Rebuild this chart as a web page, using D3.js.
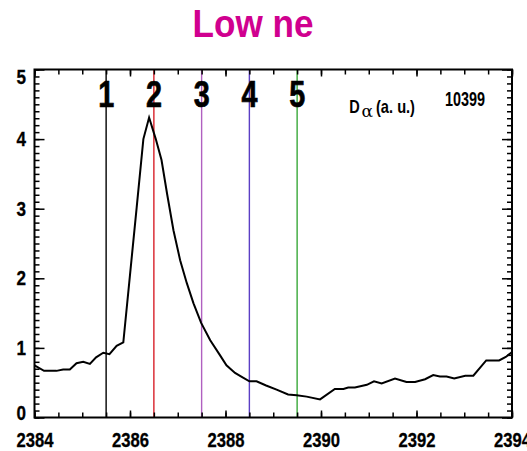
<!DOCTYPE html>
<html>
<head>
<meta charset="utf-8">
<script src="https://cdn.jsdelivr.net/npm/d3@7"></script>
<style>
  body { margin: 0; background: #fff; }
  svg text { font-family: "Liberation Sans", Arial, sans-serif; font-weight: bold; }
</style>
</head>
<body>
<script>
// time axis (ms) and D-alpha signal
var times = [2384.00, 2384.20, 2384.46, 2384.60, 2384.74, 2384.88, 2385.02, 2385.16, 2385.29, 2385.44,
             2385.57, 2385.72, 2385.86, 2386.00, 2386.14, 2386.28, 2386.40, 2386.54, 2386.66, 2386.78,
             2386.91, 2387.05, 2387.19, 2387.33, 2387.49, 2387.68, 2387.88, 2388.02, 2388.20, 2388.34,
             2388.50, 2388.65, 2388.85, 2389.07, 2389.31, 2389.49, 2389.70, 2389.98, 2390.29, 2390.47,
             2390.57, 2390.71, 2390.96, 2391.11, 2391.27, 2391.55, 2391.79, 2391.97, 2392.18, 2392.35,
             2392.49, 2392.63, 2392.79, 2393.02, 2393.19, 2393.46, 2393.73, 2393.87, 2394.00];
var dalpha = [0.75, 0.67, 0.67, 0.69, 0.69, 0.78, 0.80, 0.77, 0.865, 0.93,
              0.91, 1.03, 1.08, 2.05, 3.02, 4.00, 4.31, 4.00, 3.70, 3.20,
              2.69, 2.26, 1.93, 1.64, 1.36, 1.11, 0.90, 0.75, 0.64, 0.585,
              0.52, 0.52, 0.46, 0.40, 0.33, 0.32, 0.30, 0.26, 0.41, 0.41,
              0.43, 0.43, 0.47, 0.52, 0.49, 0.56, 0.51, 0.51, 0.55, 0.61,
              0.59, 0.59, 0.56, 0.60, 0.60, 0.82, 0.82, 0.87, 0.94];

// numbered time markers
var markerLabels = ["1", "2", "3", "4", "5"];
var markerTimes = [2385.5, 2386.5, 2387.5, 2388.5, 2389.5];
var markerColors = ["#000000", "#d8202a", "#b060c0", "#5b3fc4", "#3aa83a"];

var xTickLabels = [2384, 2386, 2388, 2390, 2392, 2394];
var yTickLabels = [0, 1, 2, 3, 4, 5];

var title = "Low ne";
var shotNumber = "10399";

var W = 527, H = 451;
var margin = {top: 69.5, right: 15, bottom: 33.5, left: 34.5},
    width = W - margin.left - margin.right,
    height = H - margin.top - margin.bottom;

var x = d3.scaleLinear().domain([2384, 2394]).range([0, width]);
var y = d3.scaleLinear().domain([0, 5]).range([height, 0]);

var svg = d3.select("body").append("svg")
    .attr("width", W)
    .attr("height", H);

svg.append("text")
    .attr("x", 253).attr("y", 37)
    .attr("text-anchor", "middle")
    .attr("font-size", 39)
    .attr("textLength", 121)
    .attr("lengthAdjust", "spacingAndGlyphs")
    .attr("fill", "#d0008f")
    .text(title);

var g = svg.append("g")
    .attr("transform", "translate(" + margin.left + "," + margin.top + ")");

// marker lines
g.selectAll(".marker")
    .data(markerTimes)
  .enter().append("line")
    .attr("class", "marker")
    .attr("x1", function(d) { return x(d); })
    .attr("x2", function(d) { return x(d); })
    .attr("y1", 0).attr("y2", height)
    .attr("stroke", function(d, i) { return markerColors[i]; })
    .attr("stroke-width", 1.4);

g.selectAll(".mlabel")
    .data(markerTimes)
  .enter().append("text")
    .attr("class", "mlabel")
    .attr("x", function(d) { return x(d); })
    .attr("y", 37.2)
    .attr("text-anchor", "middle")
    .attr("font-size", 37)
    .attr("textLength", 16)
    .attr("lengthAdjust", "spacingAndGlyphs")
    .attr("stroke", "#000")
    .attr("stroke-width", 0.7)
    .text(function(d, i) { return markerLabels[i]; });

// signal
var valueline = d3.line()
    .x(function(d, i) { return x(times[i]); })
    .y(function(d) { return y(d); });

g.append("path")
    .attr("d", valueline(dalpha))
    .attr("fill", "none")
    .attr("stroke", "#000")
    .attr("stroke-width", 2);

// axes: ticks inside on all four sides
var xMinor = d3.range(2384, 2394.01, 0.5);
var yMinor = d3.range(0, 5.001, 0.1);

g.append("g").attr("transform", "translate(0," + height + ")")
    .call(d3.axisBottom(x).tickValues(xMinor).tickSize(-5).tickFormat(""));
g.append("g")
    .call(d3.axisTop(x).tickValues(xMinor).tickSize(-5).tickFormat(""));
g.append("g").attr("class", "xlab").attr("transform", "translate(0," + height + ")")
    .call(d3.axisBottom(x).tickValues(xTickLabels).tickSize(-7).tickPadding(15).tickFormat(d3.format("d")));
g.append("g")
    .call(d3.axisTop(x).tickValues(xTickLabels).tickSize(-7).tickFormat(""));

g.append("g")
    .call(d3.axisLeft(y).tickValues(yMinor).tickSize(-5).tickFormat(""));
g.append("g").attr("transform", "translate(" + width + ",0)")
    .call(d3.axisRight(y).tickValues(yMinor).tickSize(-5).tickFormat(""));
g.append("g").attr("class", "ylab")
    .call(d3.axisLeft(y).tickValues(yTickLabels).tickSize(-10).tickPadding(8.5).tickFormat(d3.format("d")));
g.append("g").attr("transform", "translate(" + width + ",0)")
    .call(d3.axisRight(y).tickValues(yTickLabels).tickSize(-10).tickFormat(""));

g.selectAll(".domain").remove();
g.selectAll(".tick line").attr("stroke", "#000").attr("stroke-width", 1.5);
g.selectAll(".tick text")
    .attr("fill", "#000")
    .attr("font-size", 20)
    .attr("stroke", "#000")
    .attr("stroke-width", 0.3)
    .attr("lengthAdjust", "spacingAndGlyphs");
g.selectAll(".xlab .tick text").attr("textLength", 37);
g.selectAll(".ylab .tick text").attr("textLength", 9.5);

// keep y labels inside the frame at the ends
g.selectAll(".ylab .tick").filter(function(d) { return d === 5 || d === 0; })
    .select("text")
    .attr("dy", function(d) { return d === 5 ? "0.68em" : "0.12em"; });

g.append("rect")
    .attr("width", width).attr("height", height)
    .attr("fill", "none")
    .attr("stroke", "#000")
    .attr("stroke-width", 2);

// annotations
g.append("text")
    .attr("x", 314.8).attr("y", 43.5)
    .attr("font-size", 18.5)
    .attr("textLength", 10.5)
    .attr("lengthAdjust", "spacingAndGlyphs")
    .text("D");
g.append("text")
    .attr("x", 327).attr("y", 47.2)
    .attr("font-size", 16)
    .attr("textLength", 11.5)
    .attr("lengthAdjust", "spacingAndGlyphs")
    .style("font-family", "'DejaVu Serif', serif").style("font-weight", "normal")
    .text("\u03b1");
g.append("text")
    .attr("x", 341.5).attr("y", 43.5)
    .attr("font-size", 18.5)
    .attr("textLength", 39)
    .attr("lengthAdjust", "spacingAndGlyphs")
    .text("(a. u.)");

g.append("text")
    .attr("x", 410.5).attr("y", 36.5)
    .attr("font-size", 21)
    .attr("textLength", 40)
    .attr("lengthAdjust", "spacingAndGlyphs")
    .text(shotNumber);
</script>
</body>
</html>
